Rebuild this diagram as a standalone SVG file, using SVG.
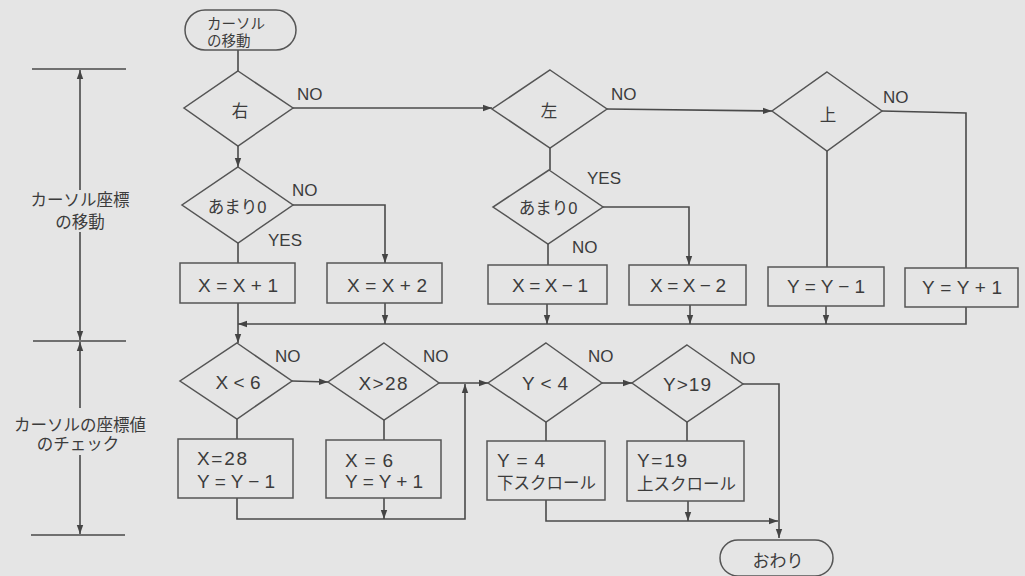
<svg xmlns="http://www.w3.org/2000/svg" width="1025" height="576" viewBox="0 0 1025 576">
<style>
.bg{fill:#e5e5e5}
.sh{fill:none;stroke:#555;stroke-width:1.5}
.ln{fill:none;stroke:#4a4a4a;stroke-width:1.6}
.t{font-family:"Liberation Sans","Noto Sans CJK JP",sans-serif;fill:#3c3c3c}
.j{font-size:16.5px}
.lab{font-size:17px}
.st{font-size:14.5px}
.bx{font-size:19px}
.m{text-anchor:middle}
</style>
<defs>
<marker id="ar" markerUnits="userSpaceOnUse" markerWidth="10" markerHeight="8" refX="9" refY="4" orient="auto">
<path d="M0,0.8 L9,4 L0,7.2 Z" fill="#444"/>
</marker>
</defs>
<rect class="bg" x="0" y="0" width="1025" height="576"/>

<g id="annotation">
<path class="ln" d="M32,69 H126 M33,341 H126 M31,535 H125"/>
<path class="ln" d="M80,190 V70" marker-end="url(#ar)"/>
<path class="ln" d="M80,232 V340" marker-end="url(#ar)"/>
<path class="ln" d="M80,408 V342" marker-end="url(#ar)"/>
<path class="ln" d="M80,455 V534" marker-end="url(#ar)"/>
<text class="t j m" x="80" y="206">カーソル座標</text>
<text class="t j m" x="80" y="228">の移動</text>
<text class="t j m" x="80" y="431">カーソルの座標値</text>
<text class="t j m" x="78" y="450">のチェック</text>
</g>

<g id="connectors">
<path class="ln" d="M238,50 V71"/>
<path class="ln" d="M293,108 H492" marker-end="url(#ar)"/>
<path class="ln" d="M607,109 L772,111" marker-end="url(#ar)"/>
<path class="ln" d="M882,111 L966,113 V268"/>
<path class="ln" d="M827,151 V267"/>
<path class="ln" d="M238,146 V167" marker-end="url(#ar)"/>
<path class="ln" d="M293,205 H385 V263" marker-end="url(#ar)"/>
<path class="ln" d="M238,243 V263"/>
<path class="ln" d="M550,148 V170"/>
<path class="ln" d="M603,207 H689 V265" marker-end="url(#ar)"/>
<path class="ln" d="M548,244 V265"/>
<path class="ln" d="M238,303 V343" marker-end="url(#ar)"/>
<path class="ln" d="M966,307 V324 H238" marker-end="url(#ar)"/>
<path class="ln" d="M385,303 V324" marker-end="url(#ar)"/>
<path class="ln" d="M547,304 V324" marker-end="url(#ar)"/>
<path class="ln" d="M690,305 V324" marker-end="url(#ar)"/>
<path class="ln" d="M826,306 V324" marker-end="url(#ar)"/>
<path class="ln" d="M292,381 L328,382" marker-end="url(#ar)"/>
<path class="ln" d="M439,383 H488" marker-end="url(#ar)"/>
<path class="ln" d="M602,383 H632" marker-end="url(#ar)"/>
<path class="ln" d="M743,384 H779 V538" marker-end="url(#ar)"/>
<path class="ln" d="M237,419 V439"/>
<path class="ln" d="M384,420 V440"/>
<path class="ln" d="M546,422 V441"/>
<path class="ln" d="M687,422 V441"/>
<path class="ln" d="M237,498 V519 H465 V384" marker-end="url(#ar)"/>
<path class="ln" d="M384,498 V519" marker-end="url(#ar)"/>
<path class="ln" d="M546,500 V521 H778" marker-end="url(#ar)"/>
<path class="ln" d="M688,501 V521" marker-end="url(#ar)"/>
<text class="t lab" x="297" y="100">NO</text>
<text class="t lab" x="611" y="100">NO</text>
<text class="t lab" x="883" y="103">NO</text>
<text class="t lab" x="292" y="196">NO</text>
<text class="t lab" x="268" y="246">YES</text>
<text class="t lab" x="587" y="184">YES</text>
<text class="t lab" x="572" y="253">NO</text>
<text class="t lab" x="275" y="362">NO</text>
<text class="t lab" x="423" y="362">NO</text>
<text class="t lab" x="588" y="362">NO</text>
<text class="t lab" x="730" y="364">NO</text>
</g>

<g id="start">
<rect class="sh" x="185" y="10" width="111" height="40" rx="20" ry="20"/>
<text class="t st" x="207" y="29">カーソル</text>
<text class="t st" x="207" y="46">の移動</text>
</g>

<g id="d-right">
<polygon class="sh" points="238,71 293,108 238,146 184,108"/>
<text class="t j m" x="240" y="117">右</text>
</g>
<g id="d-left">
<polygon class="sh" points="550,70 607,109 550,148 492,109"/>
<text class="t j m" x="549" y="117">左</text>
</g>
<g id="d-up">
<polygon class="sh" points="827,72 882,111 827,151 772,111"/>
<text class="t j m" x="828" y="121">上</text>
</g>
<g id="d-amari1">
<polygon class="sh" points="238,167 293,205 238,243 182,205"/>
<text class="t j m" x="237" y="213">あまり0</text>
</g>
<g id="d-amari2">
<polygon class="sh" points="549,170 603,207 548,244 493,207"/>
<text class="t j m" x="548" y="214">あまり0</text>
</g>

<g id="b-xp1">
<rect class="sh" x="180" y="263" width="115" height="40"/>
<text class="t bx m" x="238" y="292" textLength="80">X=X+1</text>
</g>
<g id="b-xp2">
<rect class="sh" x="327" y="263" width="115" height="40"/>
<text class="t bx m" x="387" y="292" textLength="80">X=X+2</text>
</g>
<g id="b-xm1">
<rect class="sh" x="488" y="265" width="119" height="39"/>
<text class="t bx m" x="550" y="292" textLength="76">X=X−1</text>
</g>
<g id="b-xm2">
<rect class="sh" x="629" y="265" width="117" height="40"/>
<text class="t bx m" x="688" y="292" textLength="76">X=X−2</text>
</g>
<g id="b-ym1">
<rect class="sh" x="768" y="267" width="116" height="39"/>
<text class="t bx m" x="826" y="293" textLength="78">Y=Y−1</text>
</g>
<g id="b-yp1">
<rect class="sh" x="905" y="268" width="113" height="39"/>
<text class="t bx m" x="962" y="294" textLength="80">Y=Y+1</text>
</g>

<g id="d-xlt6">
<polygon class="sh" points="237,343 292,381 237,419 180,381"/>
<text class="t bx m" x="238" y="389" textLength="45">X&lt;6</text>
</g>
<g id="d-xgt28">
<polygon class="sh" points="384,343 439,383 384,420 328,382"/>
<text class="t bx m" x="383" y="390" textLength="49">X&gt;28</text>
</g>
<g id="d-ylt4">
<polygon class="sh" points="546,343 602,383 546,422 488,383"/>
<text class="t bx m" x="545" y="390" textLength="46">Y&lt;4</text>
</g>
<g id="d-ygt19">
<polygon class="sh" points="687,345 743,384 687,422 632,383"/>
<text class="t bx m" x="687" y="391" textLength="48">Y&gt;19</text>
</g>

<g id="b-x28">
<rect class="sh" x="178" y="439" width="115" height="59"/>
<text class="t bx" x="197" y="465" textLength="50">X=28</text>
<text class="t bx" x="197" y="488" textLength="78">Y=Y−1</text>
</g>
<g id="b-x6">
<rect class="sh" x="326" y="440" width="115" height="58"/>
<text class="t bx" x="345" y="467" textLength="48">X=6</text>
<text class="t bx" x="345" y="488" textLength="78">Y=Y+1</text>
</g>
<g id="b-y4">
<rect class="sh" x="487" y="441" width="118" height="59"/>
<text class="t bx" x="497" y="467" textLength="48">Y=4</text>
<text class="t j" x="497" y="489">下スクロール</text>
</g>
<g id="b-y19">
<rect class="sh" x="627" y="441" width="117" height="60"/>
<text class="t bx" x="637" y="467" textLength="50">Y=19</text>
<text class="t j" x="637" y="490">上スクロール</text>
</g>

<g id="end">
<rect class="sh" x="720" y="540" width="113" height="36" rx="18" ry="18"/>
<text class="t lab m" x="778" y="567">おわり</text>
</g>
</svg>
